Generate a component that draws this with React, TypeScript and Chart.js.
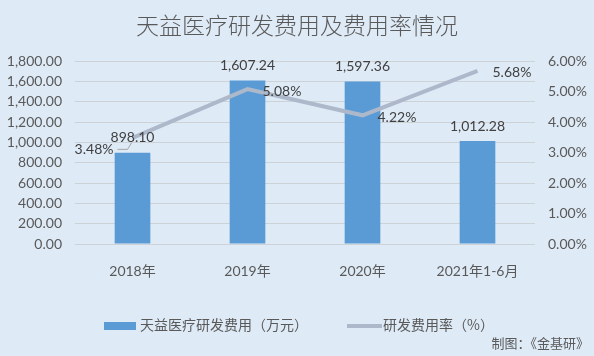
import React, { useEffect, useRef } from "react";
import { Chart, registerables } from "chart.js";

Chart.register(...registerables);

const categories = ["2018年", "2019年", "2020年", "2021年1-6月"];
const rdExpense = [898.1, 1607.24, 1597.36, 1012.28];
const rdRate = [0.0348, 0.0508, 0.0422, 0.0568];
const leftTicks = [0, 200, 400, 600, 800, 1000, 1200, 1400, 1600, 1800];
const rightTicks = [0, 0.01, 0.02, 0.03, 0.04, 0.05, 0.06];
const titleText = "天益医疗研发费用及费用率情况";
const barLegend = "天益医疗研发费用（万元）";
const lineLegend = "研发费用率（%）";
const sourceText = "制图：《金基研》";

const FONT = "Lato, 'Noto Sans CJK SC', sans-serif";
const CJK = "'Noto Sans CJK SC', sans-serif";
const TEXT = "#595959";
const BAR = "#5B9BD5";
const LINE = "#ADB9CA";
const BG = "#DEEAF6";

const fmtNum = (v: number) =>
  v.toLocaleString("en-US", { minimumFractionDigits: 2, maximumFractionDigits: 2 });
const fmtPct = (v: number) => (v * 100).toFixed(2) + "%";

const decor = {
  id: "decor",
  beforeDraw(chart: any) {
    const { ctx, width, height } = chart;
    ctx.save();
    ctx.fillStyle = BG;
    ctx.fillRect(0, 0, width, height);
    ctx.restore();
  },
  afterDatasetsDraw(chart: any) {
    const { ctx } = chart;
    ctx.save();
    ctx.font = `14px ${FONT}`;
    ctx.fillStyle = "#404040";
    ctx.textBaseline = "middle";
    const barMeta = chart.getDatasetMeta(0);
    barMeta.data.forEach((el: any, i: number) => {
      ctx.textAlign = "center";
      ctx.fillText(fmtNum(rdExpense[i]), el.x, el.y - 15);
    });
    const lineMeta = chart.getDatasetMeta(1);
    lineMeta.data.forEach((el: any, i: number) => {
      if (i === 0) {
        ctx.textAlign = "right";
        ctx.fillText(fmtPct(rdRate[i]), el.x - 19, el.y + 12);
        ctx.strokeStyle = "#A6A6A6";
        ctx.lineWidth = 1;
        ctx.beginPath();
        ctx.moveTo(el.x - 15, el.y + 11.5);
        ctx.lineTo(el.x - 5, el.y + 11.5);
        ctx.lineTo(el.x - 1, el.y + 5);
        ctx.stroke();
      } else {
        ctx.textAlign = "left";
        ctx.fillText(fmtPct(rdRate[i]), el.x + 15, el.y + 2);
      }
    });
    ctx.restore();
  },
  afterDraw(chart: any) {
    const { ctx, width } = chart;
    ctx.save();
    ctx.font = `300 23px ${CJK}`;
    ctx.fillStyle = TEXT;
    ctx.textAlign = "center";
    ctx.textBaseline = "middle";
    ctx.fillText(titleText, width / 2, 25);
    const ly = 326;
    ctx.fillStyle = BAR;
    ctx.fillRect(104, ly - 4, 32, 8);
    ctx.font = `14px ${CJK}`;
    ctx.fillStyle = TEXT;
    ctx.textAlign = "left";
    ctx.fillText(barLegend, 140, ly - 1);
    ctx.strokeStyle = LINE;
    ctx.lineWidth = 4;
    ctx.beginPath();
    ctx.moveTo(347, ly);
    ctx.lineTo(382, ly);
    ctx.stroke();
    ctx.fillText(lineLegend, 383, ly - 1);
    ctx.font = `13px ${CJK}`;
    ctx.textAlign = "right";
    ctx.fillText(sourceText, 589, 343);
    ctx.restore();
  },
};

export default function App() {
  const ref = useRef<HTMLCanvasElement | null>(null);
  useEffect(() => {
    document.body.style.margin = "0";
    if (!ref.current) return;
    const chart = new Chart(ref.current, {
      type: "bar",
      data: {
        labels: categories,
        datasets: [
          {
            type: "bar",
            label: barLegend,
            data: rdExpense,
            backgroundColor: BAR,
            yAxisID: "y",
            categoryPercentage: 1,
            barPercentage: 0.31,
            order: 1,
          },
          {
            type: "line",
            label: lineLegend,
            data: rdRate,
            borderColor: LINE,
            borderWidth: 4,
            pointRadius: 0,
            tension: 0,
            yAxisID: "y1",
            order: 0,
          } as any,
        ],
      },
      options: {
        responsive: false,
        animation: false,
        layout: { padding: { top: 61, left: 0, right: 0, bottom: 72 } },
        plugins: {
          legend: { display: false },
          title: { display: false },
          tooltip: { enabled: false },
        },
        scales: {
          x: {
            grid: { display: false },
            border: { display: false },
            ticks: { color: TEXT, font: { size: 14, family: FONT }, padding: 11 },
            afterFit: (s: any) => {
              s.height = 40;
            },
          },
          y: {
            position: "left",
            min: 0,
            max: 1800,
            afterBuildTicks: (s: any) => {
              s.ticks = leftTicks.map((v) => ({ value: v }));
            },
            grid: { color: "#CDD2D7", drawTicks: false, lineWidth: 1 },
            border: { display: false },
            ticks: {
              color: TEXT,
              font: { size: 14, family: FONT },
              padding: 13,
              callback: (v: any) => fmtNum(Number(v)),
            },
            afterFit: (s: any) => {
              s.width = 75;
            },
          },
          y1: {
            position: "right",
            min: 0,
            max: 0.06,
            afterBuildTicks: (s: any) => {
              s.ticks = rightTicks.map((v) => ({ value: v }));
            },
            grid: { display: false, drawTicks: false },
            border: { display: false },
            ticks: {
              color: TEXT,
              font: { size: 14, family: FONT },
              padding: 13,
              callback: (v: any) => fmtPct(Number(v)),
            },
            afterFit: (s: any) => {
              s.width = 59;
            },
          },
        },
      },
      plugins: [decor],
    });
    return () => chart.destroy();
  }, []);
  return (
    <div style={{ width: 594, height: 356 }}>
      <canvas ref={ref} width={594} height={356} />
    </div>
  );
}
